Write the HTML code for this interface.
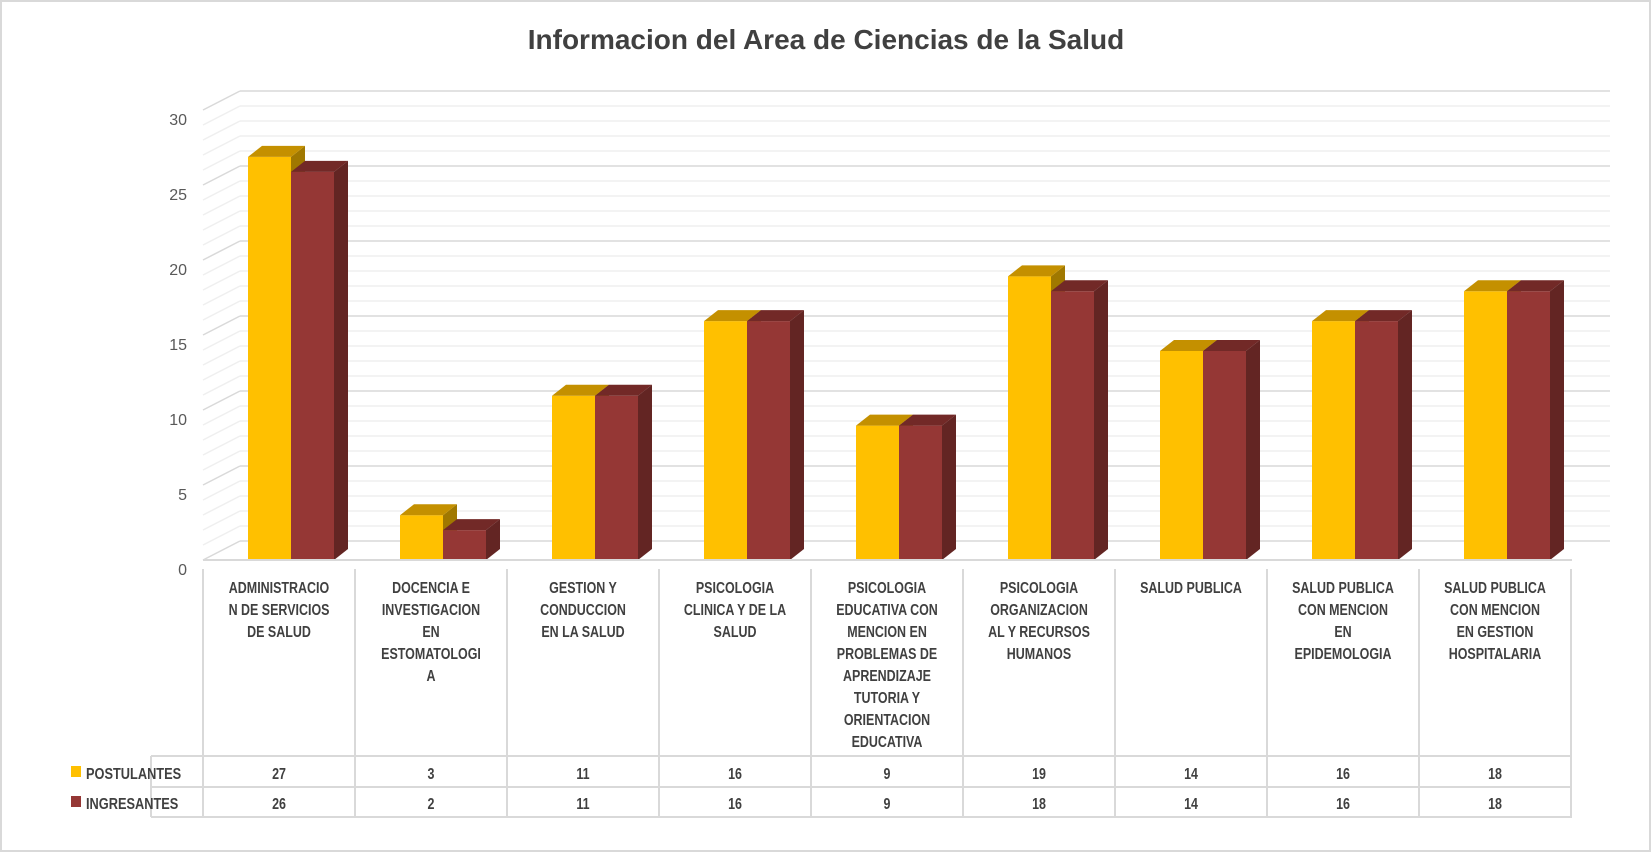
<!DOCTYPE html>
<html><head><meta charset="utf-8"><style>
body{margin:0;background:#fff}
svg text{font-family:"Liberation Sans",sans-serif;fill:#404040}
.c{font-size:16px;font-weight:bold;text-anchor:middle}
.v{font-size:16px;font-weight:bold;text-anchor:middle}
.y{font-size:16px;text-anchor:end;fill:#595959}
</style></head><body>
<svg width="1652" height="854" xmlns="http://www.w3.org/2000/svg" id="s">
<rect x="1" y="1" width="1649" height="850" fill="#fff" stroke="#d9d9d9" stroke-width="2"/>
<text x="826" y="49" text-anchor="middle" style="font-size:28px;font-weight:bold;fill:#404040">Informacion del Area de Ciencias de la Salud</text>
<g id="g"></g>
</svg>
<script>
const g=document.getElementById('g');let h='';
for(let v=0;v<=30;v++){const yb=541-15*v,yf=560-15*v;const c=v%5==0?'#d9d9d9':'#efefef';
h+=`<line x1="240" y1="${yb}" x2="1610" y2="${yb}" stroke="${c}" stroke-width="1.5"/>`;
h+=`<line x1="203" y1="${yf}" x2="240" y2="${yb}" stroke="${c}" stroke-width="1.5"/>`;}
[0,5,10,15,20,25,30].forEach((v,i)=>{h+=`<text class="y" x="187" y="${575-75*i}">${v}</text>`});
const P=[27,3,11,16,9,19,14,16,18],I=[26,2,11,16,9,18,14,16,18];
const L=[["ADMINISTRACIO","N DE SERVICIOS","DE SALUD"],["DOCENCIA E","INVESTIGACION","EN","ESTOMATOLOGI","A"],["GESTION Y","CONDUCCION","EN LA SALUD"],["PSICOLOGIA","CLINICA Y DE LA","SALUD"],["PSICOLOGIA","EDUCATIVA CON","MENCION EN","PROBLEMAS DE","APRENDIZAJE","TUTORIA Y","ORIENTACION","EDUCATIVA"],["PSICOLOGIA","ORGANIZACION","AL Y RECURSOS","HUMANOS"],["SALUD PUBLICA"],["SALUD PUBLICA","CON MENCION","EN","EPIDEMOLOGIA"],["SALUD PUBLICA","CON MENCION","EN GESTION","HOSPITALARIA"]];
const k=14.93,b=560;
for(let i=0;i<9;i++){const x=248+152*i;const yy=b-P[i]*k,yr=b-I[i]*k;
h+=`<polygon points="${x+43},${yy} ${x+57},${yy-11} ${x+57},${b-11} ${x+43},${b}" fill="#A07800"/>`;
h+=`<rect x="${x}" y="${yy}" width="43" height="${b-yy}" fill="#FFC000"/>`;
h+=`<polygon points="${x},${yy} ${x+43},${yy} ${x+57},${yy-11} ${x+14},${yy-11}" fill="#C49000"/>`;
h+=`<rect x="${x+43}" y="${yr}" width="43" height="${b-yr}" fill="#953735"/>`;
h+=`<polygon points="${x+43},${yr} ${x+86},${yr} ${x+100},${yr-11} ${x+57},${yr-11}" fill="#722927"/>`;
h+=`<polygon points="${x+86},${yr} ${x+100},${yr-11} ${x+100},${b-11} ${x+86},${b}" fill="#632523"/>`;
const cx=279+152*i;h+=`<g transform="translate(${cx},0) scale(0.78,1)">`;
L[i].forEach((t,j)=>{h+=`<text class="c" x="0" y="${593+22*j}">${t}</text>`});
h+=`<text class="v" x="0" y="779">${P[i]}</text><text class="v" x="0" y="809">${I[i]}</text></g>`;}
h+=`<line x1="203" y1="560" x2="1572" y2="560" stroke="#d9d9d9" stroke-width="2"/>`;
for(let i=0;i<=9;i++){const x=203+152*i;h+=`<line x1="${x}" y1="569" x2="${x}" y2="817" stroke="#d9d9d9" stroke-width="2"/>`;}
h+=`<line x1="151" y1="756" x2="151" y2="817" stroke="#d9d9d9" stroke-width="2"/>`;
[756,787,817].forEach(y=>{h+=`<line x1="151" y1="${y}" x2="1572" y2="${y}" stroke="#d9d9d9" stroke-width="2"/>`});
h+=`<rect x="71" y="766" width="10" height="11" fill="#FFC000"/><text transform="translate(86,0) scale(0.8,1)" x="0" y="779" style="font-size:16px;font-weight:bold">POSTULANTES</text>`;
h+=`<rect x="71" y="796" width="10" height="11" fill="#953735"/><text transform="translate(86,0) scale(0.8,1)" x="0" y="809" style="font-size:16px;font-weight:bold">INGRESANTES</text>`;
g.innerHTML=h;
</script>
</body></html>
